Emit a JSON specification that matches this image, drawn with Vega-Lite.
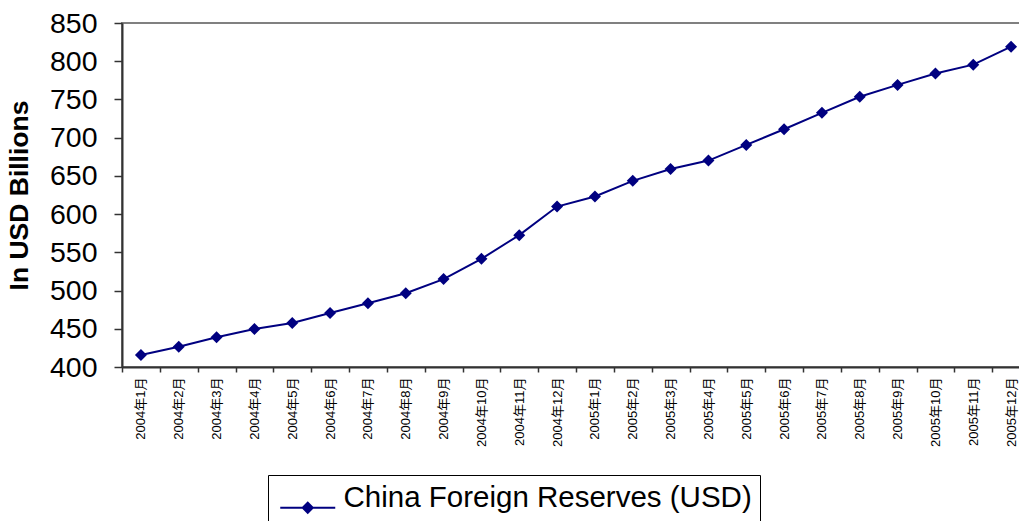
{
  "$schema": "https://vega.github.io/schema/vega-lite/v6.json",
  "width": 908,
  "height": 344,
  "autosize": {"type": "none"},
  "padding": {"left": 122, "top": 23, "right": -11, "bottom": 154},
  "background": "white",
  "config": {
    "font": "Liberation Sans, Arial, Noto Sans CJK SC",
    "view": {"stroke": "#808080", "strokeWidth": 2}
  },
  "data": {
    "values": [
      {"month": "2004年1月", "value": 415.7, "series": "China Foreign Reserves (USD)"},
      {"month": "2004年2月", "value": 426.6, "series": "China Foreign Reserves (USD)"},
      {"month": "2004年3月", "value": 439.0, "series": "China Foreign Reserves (USD)"},
      {"month": "2004年4月", "value": 449.7, "series": "China Foreign Reserves (USD)"},
      {"month": "2004年5月", "value": 457.6, "series": "China Foreign Reserves (USD)"},
      {"month": "2004年6月", "value": 470.6, "series": "China Foreign Reserves (USD)"},
      {"month": "2004年7月", "value": 483.3, "series": "China Foreign Reserves (USD)"},
      {"month": "2004年8月", "value": 496.4, "series": "China Foreign Reserves (USD)"},
      {"month": "2004年9月", "value": 515.0, "series": "China Foreign Reserves (USD)"},
      {"month": "2004年10月", "value": 541.5, "series": "China Foreign Reserves (USD)"},
      {"month": "2004年11月", "value": 572.5, "series": "China Foreign Reserves (USD)"},
      {"month": "2004年12月", "value": 609.9, "series": "China Foreign Reserves (USD)"},
      {"month": "2005年1月", "value": 623.0, "series": "China Foreign Reserves (USD)"},
      {"month": "2005年2月", "value": 643.5, "series": "China Foreign Reserves (USD)"},
      {"month": "2005年3月", "value": 659.0, "series": "China Foreign Reserves (USD)"},
      {"month": "2005年4月", "value": 670.0, "series": "China Foreign Reserves (USD)"},
      {"month": "2005年5月", "value": 690.5, "series": "China Foreign Reserves (USD)"},
      {"month": "2005年6月", "value": 711.0, "series": "China Foreign Reserves (USD)"},
      {"month": "2005年7月", "value": 732.5, "series": "China Foreign Reserves (USD)"},
      {"month": "2005年8月", "value": 753.5, "series": "China Foreign Reserves (USD)"},
      {"month": "2005年9月", "value": 769.0, "series": "China Foreign Reserves (USD)"},
      {"month": "2005年10月", "value": 784.0, "series": "China Foreign Reserves (USD)"},
      {"month": "2005年11月", "value": 795.5, "series": "China Foreign Reserves (USD)"},
      {"month": "2005年12月", "value": 819.0, "series": "China Foreign Reserves (USD)"}
    ]
  },
  "mark": {
    "type": "line",
    "strokeWidth": 2,
    "point": {"shape": "diamond", "size": 144, "filled": true, "opacity": 1}
  },
  "encoding": {
    "x": {
      "field": "month",
      "type": "ordinal",
      "sort": null,
      "bandPosition": 0.5,
      "scale": {"type": "band", "paddingInner": 0, "paddingOuter": 0},
      "axis": {
        "title": null,
        "labelAngle": -90,
        "labelFontSize": 13,
        "labelColor": "#000000",
        "tickBand": "extent",
        "tickSize": 5,
        "tickColor": "#333333",
        "tickWidth": 1.5,
        "domainColor": "#333333",
        "domainWidth": 2,
        "labelPadding": 5,
        "labelOverlap": false,
        "grid": false
      }
    },
    "y": {
      "field": "value",
      "type": "quantitative",
      "scale": {"domain": [400, 850], "nice": false, "zero": false},
      "axis": {
        "title": "In USD Billions",
        "titleFontSize": 26.5,
        "titleFontWeight": "bold",
        "titleColor": "#000000",
        "titlePadding": 16,
        "values": [400, 450, 500, 550, 600, 650, 700, 750, 800, 850],
        "labelFontSize": 28.5,
        "labelColor": "#000000",
        "labelPadding": 17,
        "tickSize": 8,
        "tickColor": "#333333",
        "tickWidth": 1.5,
        "domainColor": "#333333",
        "domainWidth": 2,
        "grid": false
      }
    },
    "color": {
      "field": "series",
      "type": "nominal",
      "scale": {"range": ["#000080"]},
      "legend": {
        "title": null,
        "orient": "none",
        "legendX": 146,
        "legendY": 452,
        "padding": 8,
        "strokeColor": "#000000",
        "fillColor": "white",
        "labelFontSize": 29.5,
        "labelLimit": 800,
        "labelColor": "#000000",
        "symbolType": "M-2.75,1L2.75,1M-0.5,1L0,0.5L0.5,1L0,1.5Z",
        "symbolSize": 400,
        "symbolStrokeWidth": 2,
        "symbolStrokeColor": "#000080",
        "symbolFillColor": "#000080",
        "symbolOffset": 17,
        "labelOffset": 21
      }
    }
  }
}
